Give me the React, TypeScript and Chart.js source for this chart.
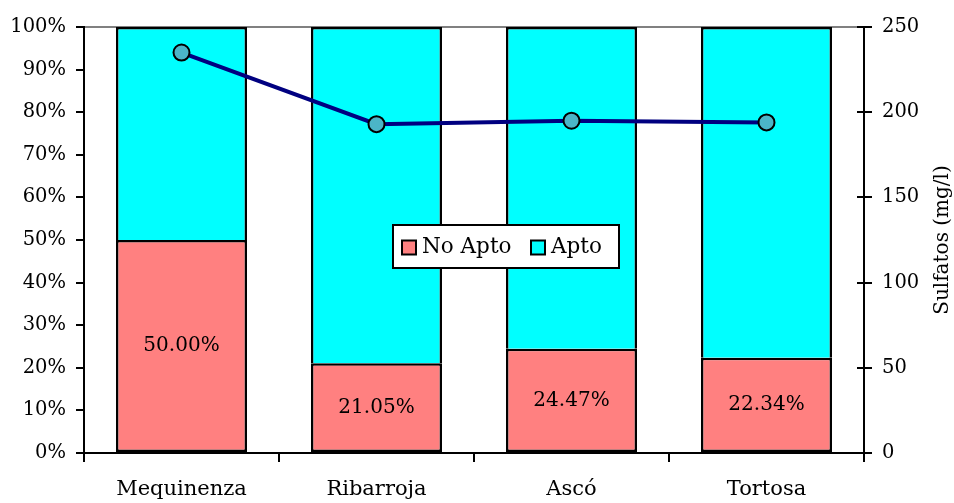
import { useEffect, useRef } from 'react';
import { Chart, registerables } from 'chart.js';
Chart.register(...registerables);

const categories = ['Mequinenza', 'Ribarroja', 'Ascó', 'Tortosa'];
const noApto = [50.0, 21.05, 24.47, 22.34];
const apto = [50.0, 78.95, 75.53, 77.66];
const sulfatos = [235, 193, 195, 194];
const legendLabels = ['No Apto', 'Apto'];
const axisTitleRight = 'Sulfatos (mg/l)';

const FONT = '"DejaVu Serif", serif';
const RED = '#FF8080';
const CYAN = '#00FFFF';

const labelPlugin = {
  id: 'labels',
  afterDatasetsDraw(chart: any) {
    const ctx = chart.ctx;
    const meta = chart.getDatasetMeta(0);
    ctx.save();
    ctx.font = `20px ${FONT}`;
    ctx.fillStyle = '#000';
    ctx.textAlign = 'center';
    ctx.textBaseline = 'middle';
    meta.data.forEach((bar: any, i: number) => {
      const p = bar.getProps(['x', 'y', 'base'], true);
      ctx.fillText(noApto[i].toFixed(2) + '%', p.x, (p.y + p.base) / 2);
    });
    ctx.restore();
  },
};

const decorPlugin = {
  id: 'decor',
  afterDraw(chart: any) {
    const ctx = chart.ctx;
    const ca = chart.chartArea;
    const y1 = chart.scales.y1;
    ctx.save();
    ctx.strokeStyle = '#000';
    ctx.lineWidth = 2;
    y1.ticks.forEach((t: any) => {
      const y = Math.round(y1.getPixelForValue(t.value));
      ctx.beginPath();
      ctx.moveTo(ca.right - 7, y);
      ctx.lineTo(ca.right, y);
      ctx.stroke();
    });
    ctx.translate(943, (ca.top + ca.bottom) / 2);
    ctx.rotate(-Math.PI / 2);
    ctx.font = `20px ${FONT}`;
    ctx.fillStyle = '#000';
    ctx.textAlign = 'center';
    ctx.textBaseline = 'middle';
    ctx.fillText(axisTitleRight, 0, 0);
    ctx.restore();

    ctx.save();
    const lx = 393, ly = 225, lw = 226, lh = 43;
    ctx.fillStyle = '#fff';
    ctx.fillRect(lx, ly, lw, lh);
    ctx.strokeStyle = '#000';
    ctx.lineWidth = 2;
    ctx.strokeRect(lx, ly, lw, lh);
    ctx.font = `21.5px ${FONT}`;
    ctx.textBaseline = 'middle';
    ctx.textAlign = 'left';
    const cy = ly + lh / 2 + 1;
    const items = [
      { x: 402, color: RED, text: legendLabels[0] },
      { x: 531, color: CYAN, text: legendLabels[1] },
    ];
    items.forEach((it) => {
      ctx.fillStyle = it.color;
      ctx.fillRect(it.x, cy - 7, 14, 14);
      ctx.strokeRect(it.x, cy - 7, 14, 14);
      ctx.fillStyle = '#000';
      ctx.fillText(it.text, it.x + 20, cy);
    });
    ctx.restore();
  },
};

export default function App() {
  const ref = useRef<HTMLCanvasElement>(null);
  useEffect(() => {
    const chart = new Chart(ref.current!, {
      type: 'bar',
      data: {
        labels: categories,
        datasets: [
          {
            type: 'bar',
            label: legendLabels[0],
            data: noApto,
            backgroundColor: RED,
            borderColor: '#000',
            borderWidth: 2.5,
            borderSkipped: false,
            yAxisID: 'y',
            order: 2,
          },
          {
            type: 'bar',
            label: legendLabels[1],
            data: apto,
            backgroundColor: CYAN,
            borderColor: '#000',
            borderWidth: 2.5,
            borderSkipped: 'bottom',
            yAxisID: 'y',
            order: 2,
          },
          {
            type: 'line',
            label: axisTitleRight,
            data: sulfatos,
            borderColor: '#000080',
            borderWidth: 4,
            pointRadius: 8,
            pointBorderWidth: 2,
            pointBorderColor: '#000',
            pointBackgroundColor: '#4BB5C7',
            yAxisID: 'y1',
            order: 0,
          } as any,
        ],
      },
      options: {
        animation: false,
        responsive: true,
        maintainAspectRatio: false,
        events: [],
        layout: { padding: { top: 27, left: 0, right: 0, bottom: 0 } },
        datasets: { bar: { categoryPercentage: 1, barPercentage: 0.672 } },
        plugins: { legend: { display: false }, tooltip: { enabled: false }, title: { display: false } },
        scales: {
          x: {
            stacked: true,
            afterFit: (s: any) => { s.height = 50; },
            grid: { offset: true, drawOnChartArea: false, tickLength: 9, tickColor: '#000', lineWidth: 2 },
            border: { color: '#000', width: 2 },
            ticks: { color: '#000', font: { family: FONT, size: 21 }, padding: 15 },
          },
          y: {
            stacked: true,
            position: 'left',
            min: 0,
            max: 100,
            afterFit: (s: any) => { s.width = 84; },
            grid: {
              color: (c: any) => (c.tick && c.tick.value === 100 ? '#808080' : 'rgba(0,0,0,0)'),
              tickColor: '#000',
              tickLength: 8,
              lineWidth: 2,
            },
            border: { color: '#000', width: 2 },
            ticks: {
              stepSize: 10,
              color: '#000',
              padding: 10,
              font: { family: FONT, size: 19.5 },
              callback: (v: any) => v + '%',
            },
          },
          y1: {
            position: 'right',
            min: 0,
            max: 250,
            afterFit: (s: any) => { s.width = 90; },
            grid: { drawOnChartArea: false, tickColor: '#000', tickLength: 8, lineWidth: 2 },
            border: { color: '#000', width: 2 },
            ticks: { stepSize: 50, color: '#000', padding: 10, font: { family: FONT, size: 19.5 } },
          },
        },
      },
      plugins: [labelPlugin, decorPlugin],
    });
    return () => chart.destroy();
  }, []);
  return (
    <div style={{ position: 'fixed', left: 0, top: 0, width: 954, height: 503, background: '#fff' }}>
      <canvas ref={ref} />
    </div>
  );
}
